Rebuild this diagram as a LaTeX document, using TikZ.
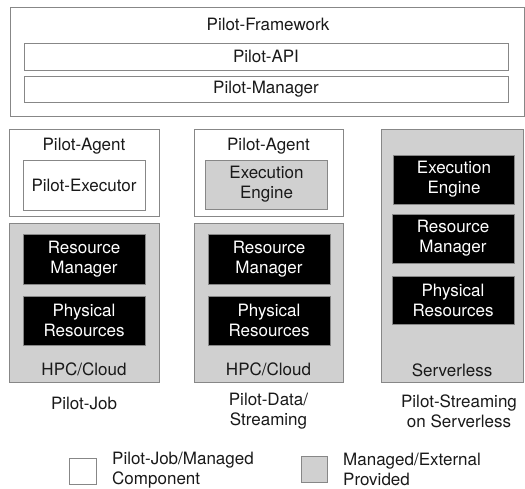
\documentclass[tikz,border=0pt]{standalone}
\usepackage{fontspec}
\setmainfont{TeX Gyre Heros}
\definecolor{edgegray}{RGB}{135,135,135}
\definecolor{fillgray}{RGB}{208,208,208}
\definecolor{txt}{RGB}{25,25,25}
\begin{document}
\begin{tikzpicture}[x=1pt,y=-1pt,
  every node/.style={font=\fontsize{17}{20}\selectfont, inner sep=0pt, text=txt},
  box/.style={draw=edgegray, line width=0.8pt, fill=white, align=center},
  gbox/.style={box, fill=fillgray},
  bbox/.style={draw=edgegray, line width=0.8pt, fill=black, text=white, align=center},
  lbl/.style={align=center}
]
\useasboundingbox (0,0) rectangle (525,489);
% Framework
\node[box, minimum width=514, minimum height=109] (fw) at (267,61.5) {};
\node[lbl] (fwt) at (268,24) {Pilot-Framework};
\node[box, minimum width=484, minimum height=27] (api) at (266,56.5) {Pilot-API};
\node[box, minimum width=484, minimum height=26] (mgr) at (266,89) {Pilot-Manager};
% Column 1
\node[box, minimum width=150, minimum height=87] (ag1) at (84,172.5) {};
\node[lbl] (ag1t) at (84,146) {Pilot-Agent};
\node[box, minimum width=122, minimum height=50] (ex1) at (84,185) {Pilot-Executor};
\node[gbox, minimum width=150, minimum height=159] (g1) at (84,302.5) {};
\node[bbox, minimum width=122, minimum height=50] (rm1) at (84,259) {Resource\\Manager};
\node[bbox, minimum width=122, minimum height=49] (pr1) at (84,320.5) {Physical\\Resources};
\node[lbl] (hpc1) at (84,369) {HPC/Cloud};
\node[lbl] (cap1) at (84,403) {Pilot-Job};
% Column 2
\node[box, minimum width=149, minimum height=87] (ag2) at (268.5,172.5) {};
\node[lbl] (ag2t) at (268.5,146) {Pilot-Agent};
\node[gbox, minimum width=122, minimum height=49] (ee2) at (266.5,184.5) {Execution\\Engine};
\node[gbox, minimum width=149, minimum height=159] (g2) at (268.5,302.5) {};
\node[bbox, minimum width=122, minimum height=50] (rm2) at (269,259) {Resource\\Manager};
\node[bbox, minimum width=122, minimum height=49] (pr2) at (269,320.5) {Physical\\Resources};
\node[lbl] (hpc2) at (268.5,369) {HPC/Cloud};
\node[lbl] (cap2) at (268.5,411.5) {Pilot-Data/\\Streaming};
% Column 3
\node[gbox, minimum width=142, minimum height=253] (g3) at (452,255.5) {};
\node[bbox, minimum width=121, minimum height=49] (ee3) at (454,179.5) {Execution\\Engine};
\node[bbox, minimum width=122, minimum height=49] (rm3) at (453,238.5) {Resource\\Manager};
\node[bbox, minimum width=122, minimum height=48] (pr3) at (453,300) {Physical\\Resources};
\node[lbl] (srv) at (452,370) {Serverless};
\node[lbl] (cap3) at (459,411.5) {Pilot-Streaming\\on Serverless};
% Legend
\node[box, minimum width=27, minimum height=26] (lw) at (82.5,471) {};
\node[align=left, anchor=west] (lwt) at (112,470.5) {Pilot-Job/Managed\\Component};
\node[gbox, minimum width=26, minimum height=26] (lg) at (314,469) {};
\node[align=left, anchor=west] (lgt) at (343,469.5) {Managed/External\\Provided};
\end{tikzpicture}
\end{document}
